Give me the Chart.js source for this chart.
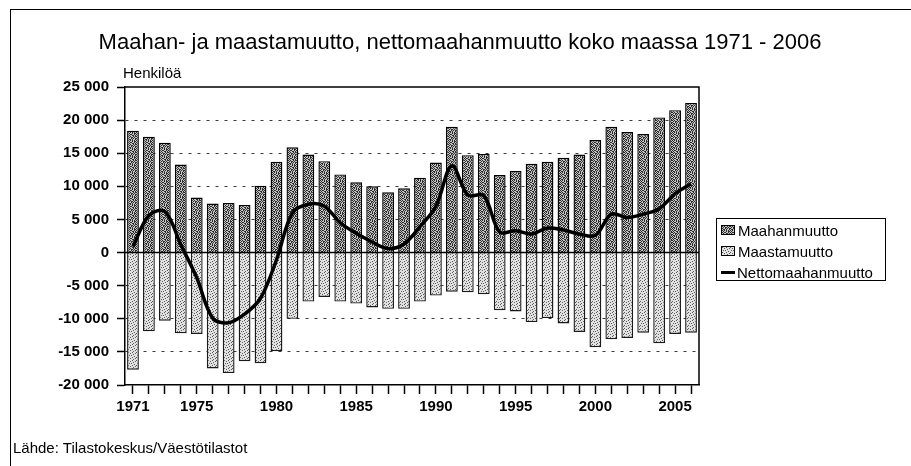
<!DOCTYPE html>
<html>
<head>
<meta charset="utf-8">
<script src="https://cdn.jsdelivr.net/npm/chart.js@4/dist/chart.umd.min.js"></script>
<style>
  body { margin: 0; background: #fff; }
  #wrap { position: relative; width: 911px; height: 466px; overflow: hidden; font-family: "Liberation Sans", Arial, sans-serif; color: #000; }
  #frame { position: absolute; left: 10px; top: 9px; right: -5px; bottom: -5px; border-left: 1.5px solid #000; border-top: 1.5px solid #000; }
  #title { position: absolute; left: 0; width: 920px; top: 31px; text-align: center; font-size: 22px; line-height: 22px; white-space: nowrap; }
  #unit { position: absolute; left: 123px; top: 65px; font-size: 15px; line-height: 15px; }
  #source { position: absolute; left: 13px; top: 440px; font-size: 15px; line-height: 15px; }
  #legend { position: absolute; left: 716px; top: 218px; width: 170px; height: 63px; border: 1px solid #000; box-sizing: border-box; background: #fff; }
  .row { position: absolute; left: 4px; height: 16px; font-size: 15px; line-height: 16px; white-space: nowrap; }
  .sw { display: inline-block; width: 12px; height: 8px; border: 1px solid #000; vertical-align: 1px; margin-right: 3px; }
  .ln { display: inline-block; width: 14px; height: 3px; background: #000; vertical-align: 4px; margin-right: 2px; }
</style>
</head>
<body>
<div id="wrap">
  <canvas id="chart" width="911" height="466"></canvas>
  <div id="frame"></div>
  <div id="title">Maahan- ja maastamuutto, nettomaahanmuutto koko maassa 1971 - 2006</div>
  <div id="unit">Henkilöä</div>
  <div id="legend">
    <div class="row" style="top:4px"><span class="sw" id="sw1"></span>Maahanmuutto</div>
    <div class="row" style="top:25px"><span class="sw" id="sw2"></span>Maastamuutto</div>
    <div class="row" style="top:46px"><span class="ln"></span>Nettomaahanmuutto</div>
  </div>
  <div id="source">Lähde: Tilastokeskus/Väestötilastot</div>
</div>
<script>
// data
var years = ['1971','1972','1973','1974','1975','1976','1977','1978','1979','1980',
  '1981','1982','1983','1984','1985','1986','1987','1988','1989','1990',
  '1991','1992','1993','1994','1995','1996','1997','1998','1999','2000',
  '2001','2002','2003','2004','2005','2006']
var maahanmuutto = [18400, 17500, 16600, 13300, 8300, 7400, 7500, 7200, 10100, 13700,
  15900, 14800, 13800, 11800, 10600, 10000, 9100, 9700, 11300, 13600,
  19000, 14700, 14900, 11700, 12300, 13400, 13700, 14300, 14800, 17000,
  19000, 18200, 17900, 20400, 21500, 22600]
var maastamuutto = [-17700, -11900, -10300, -12200, -12300, -17500, -18200, -16400, -16700, -14900,
  -10000, -7400, -6700, -7400, -7700, -8300, -8500, -8500, -7400, -6500,
  -5900, -6000, -6300, -8700, -8900, -10500, -9900, -10700, -12000, -14300,
  -13100, -12900, -12100, -13700, -12300, -12100]
var netto = [900, 5600, 6200, 1200, -3800, -9900, -10600, -9300, -6900, -1100,
  6000, 7300, 7000, 4500, 2900, 1600, 600, 1300, 3900, 7000,
  13100, 8700, 8600, 3100, 3300, 2800, 3700, 3400, 2800, 2600,
  5800, 5300, 5800, 6600, 8900, 10400]
var yTicks = [25000, 20000, 15000, 10000, 5000, 0, -5000, -10000, -15000, -20000]
var shownYears = ['1971', '1975', '1980', '1985', '1990', '1995', '2000', '2005']

// stipple textures for the bars (x = dark dot)
var darkRows = [
  'x.x..x.x',
  '.x.xx.x.',
  'x..x.x.x',
  '.xx.x..x',
  'x.x.x.x.',
  '.x..x.xx',
  'x.xx..x.',
  '.x..xx.x'
]
var lightRows = [
  'x...x...',
  '..x....x',
  '.....x..',
  '.x.x....',
  '......x.',
  'x...x...',
  '..x....x',
  '.....x..'
]
function stipple(bg, fg, rows) {
  var c = document.createElement('canvas')
  c.width = 8; c.height = 8
  var g = c.getContext('2d')
  g.fillStyle = bg
  g.fillRect(0, 0, 8, 8)
  g.fillStyle = fg
  rows.forEach(function(r, y) {
    for (var x = 0; x < r.length; x++) if (r[x] === 'x') g.fillRect(x, y, 1, 1)
  })
  return c
}
var darkTex = stipple('#c6c6c6', '#2a2a2a', darkRows)
var lightTex = stipple('#e2e2e2', '#5a5a5a', lightRows)
document.getElementById('sw1').style.backgroundImage = 'url(' + darkTex.toDataURL() + ')'
document.getElementById('sw2').style.backgroundImage = 'url(' + lightTex.toDataURL() + ')'

var ctx = document.getElementById('chart').getContext('2d')
var darkFill = ctx.createPattern(darkTex, 'repeat')
var lightFill = ctx.createPattern(lightTex, 'repeat')

function fmt(v) {
  if (v === 0) return '0'
  return (v < 0 ? '-' : '') + Math.abs(v) / 1000 + ' 000'
}

// box round the plot area and the zero line
var frame = {
  id: 'frame',
  afterDatasetsDraw: function(chart) {
    var a = chart.chartArea
    var g = chart.ctx
    var y0 = chart.scales.y.getPixelForValue(0)
    g.save()
    g.strokeStyle = '#000'
    g.lineWidth = 1.5
    g.beginPath()
    g.moveTo(a.left, a.top); g.lineTo(a.right, a.top); g.lineTo(a.right, a.bottom)
    g.moveTo(a.left, y0); g.lineTo(a.right, y0)
    g.stroke()
    g.restore()
  }
}

Chart.defaults.font.family = '"Liberation Sans", Arial, sans-serif'
Chart.defaults.color = '#000'

new Chart(ctx, {
  type: 'bar',
  data: {
    labels: years,
    datasets: [
      {
        type: 'line',
        label: 'Nettomaahanmuutto',
        data: netto,
        borderColor: '#000',
        borderWidth: 3.5,
        pointRadius: 0,
        tension: 0.35,
        fill: false,
        order: 0
      },
      {
        label: 'Maahanmuutto',
        data: maahanmuutto,
        backgroundColor: darkFill,
        borderColor: '#000',
        borderWidth: 1.4,
        barPercentage: 0.74,
        categoryPercentage: 1,
        order: 1
      },
      {
        label: 'Maastamuutto',
        data: maastamuutto,
        backgroundColor: lightFill,
        borderColor: '#1a1a1a',
        borderWidth: 1.4,
        barPercentage: 0.74,
        categoryPercentage: 1,
        order: 1
      }
    ]
  },
  options: {
    responsive: false,
    animation: false,
    layout: { padding: { left: 0, right: 212, top: 87, bottom: 0 } },
    plugins: {
      legend: { display: false },
      tooltip: { enabled: false },
      title: { display: false }
    },
    scales: {
      x: {
        stacked: true,
        grid: { display: true, drawOnChartArea: false, drawTicks: true, offset: false, tickLength: 9, tickColor: '#000', tickWidth: 1.5 },
        border: { color: '#000', width: 1.5 },
        ticks: {
          autoSkip: false,
          maxRotation: 0,
          padding: 4,
          font: { size: 15, weight: 'bold' },
          callback: function(v, i) { return shownYears.indexOf(years[i]) >= 0 ? years[i] : '' }
        },
        afterFit: function(s) { s.height = 81 }
      },
      y: {
        min: yTicks[yTicks.length - 1],
        max: yTicks[0],
        afterBuildTicks: function(s) { s.ticks = yTicks.map(function(v) { return { value: v } }) },
        grid: {
          color: function(c) { return (c.tick && (c.tick.value === 0 || c.tick.value === 25000 || c.tick.value === -20000)) ? 'rgba(0,0,0,0)' : '#3a3a3a' },
          lineWidth: 1,
          tickLength: 8,
          tickColor: '#000',
          tickWidth: 1.5
        },
        border: { color: '#000', width: 1.5, dash: [3, 6] },
        ticks: {
          padding: 8,
          font: { size: 15, weight: 'bold' },
          callback: function(v) { return fmt(v) }
        },
        afterFit: function(s) { s.width = 125 }
      }
    }
  },
  plugins: [frame]
})
</script>
</body>
</html>
